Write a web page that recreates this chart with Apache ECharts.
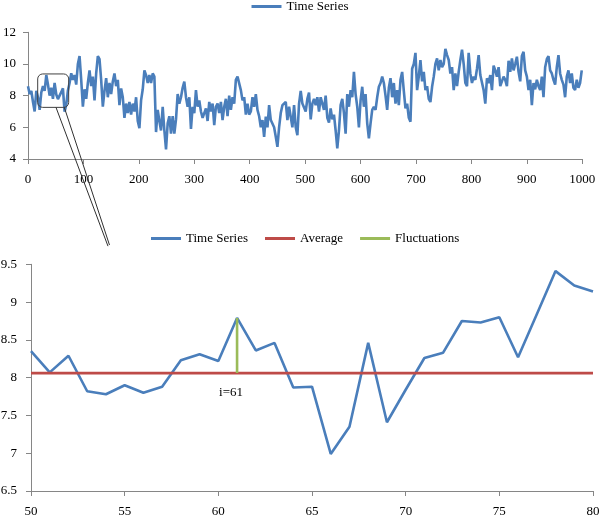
<!DOCTYPE html>
<html><head><meta charset="utf-8">
<script src="https://cdn.jsdelivr.net/npm/echarts@6/dist/echarts.min.js"></script>
<style>html,body{margin:0;padding:0;background:#fff}#c{width:600px;height:517px}</style>
</head><body><div id="c"></div>
<script>
// Overview series: one reading every 3 steps, x = index * 3
const overviewStep = 3;
const overviewValues = [
  8.6, 8.1, 8.3, 7.6, 7.0, 8.3, 7.9, 7.1, 8.2, 8.6, 8.3, 9.3, 8.7, 8.0, 8.5, 7.8, 8.8,
  8.07, 7.78, 7.88, 8.22, 8.46, 6.99, 7.41, 8.33, 8.80, 9.41,
  9.0, 9.3, 8.7, 10.0, 10.5, 9.0, 7.3, 8.4, 7.8, 8.8, 9.6, 8.6, 9.2, 7.7, 9.4, 10.5, 10.3, 9.0, 7.3, 8.3, 9.1, 7.9, 8.8, 8.1, 8.9,
  9.4, 8.6, 9.0, 7.4, 8.46, 7.9, 6.6, 7.5, 6.9, 7.6,
  6.8, 7.5, 7.0, 7.9, 6.4, 5.95, 7.7, 8.4, 9.6, 9.3,
  8.8, 9.3, 8.8, 9.4, 9.2, 5.7, 7.1, 6.4, 5.8, 7.3,
  5.8, 4.6, 6.25, 6.7, 5.6, 6.7, 5.6, 6.5, 8.1, 7.5,
  7.9, 8.5, 8.88, 7.9, 7.3, 7.9, 5.9, 7.3, 6.9, 8.35,
  7.3, 7.7, 7.0, 6.6,
  6.5, 7.2, 6.4, 7.6, 7.0, 7.5, 6.14, 7.3, 7.5, 6.9,
  7.6, 6.46, 7.3, 7.8, 6.7, 8.0, 7.1, 7.9, 7.5, 9.0,
  9.2, 9.3, 8.35, 7.7, 7.9, 6.8, 7.5, 6.8, 7.0, 7.9,
  7.3, 8.1, 7.1, 6.7, 6.0, 6.46, 5.4, 6.67, 6.0, 7.4,
  6.46, 6.46, 6.0, 5.4, 4.77, 6.0, 6.9, 7.4, 7.3, 7.6,
  6.46, 7.3, 7.3, 6.0,
  7.4, 6.0, 5.5, 7.5, 8.3, 7.5, 7.6, 7.0, 7.8, 8.2,
  6.5, 7.5, 7.8, 7.4, 7.9, 7.0, 7.9, 7.9, 7.1, 8.0,
  6.6, 6.3, 7.2, 6.5, 6.8, 5.8, 4.67, 5.8, 7.4, 7.8,
  6.9, 5.6, 8.1, 7.3, 8.35, 7.9, 9.5, 8.1, 7.3, 6.0,
  7.7, 8.56, 7.3, 8.1, 6.25, 5.3, 6.25, 7.1, 7.3, 7.1,
  7.9, 8.56, 8.8, 9.2,
  8.8, 8.0, 7.1, 8.5, 9.1, 7.9, 8.8, 7.5, 8.35, 7.4,
  9.0, 9.5, 8.3, 7.2, 7.5, 6.6, 6.35, 9.7, 10.0, 10.7,
  8.35, 9.2, 10.25, 8.9, 9.5, 8.35, 8.6, 7.8, 7.6, 8.56,
  9.2, 10.0, 10.35, 9.6, 10.25, 9.8, 10.0, 10.95, 10.56, 10.25,
  9.4, 9.8, 8.35, 9.4, 8.6,
  9.5, 10.25, 10.9, 10.0, 8.8, 8.6, 10.7, 9.4, 8.8, 9.2,
  9.0, 9.7, 10.56, 9.3, 9.4, 8.35, 7.5, 9.1, 8.8, 9.3,
  8.35, 9.9, 9.6, 9.2, 9.8, 8.6, 8.9, 9.2, 9.0, 8.6,
  10.2, 9.5, 10.35, 9.6, 10.0, 10.46, 9.5, 8.9, 10.5, 10.77,
  9.6,
  9.2, 8.35, 9.0, 7.4, 8.8, 8.4, 9.0, 8.6, 8.35, 9.2,
  7.9, 9.8, 10.3, 10.5, 9.6, 9.4, 9.0, 8.7, 9.8, 10.56,
  9.4, 9.0, 8.7, 7.9, 9.2, 9.6, 8.8, 9.4, 8.5, 8.35,
  9.0, 8.5, 8.8, 9.6
];
// Detail window
const detailX = [50,51,52,53,54,55,56,57,58,59,60,61,62,63,64,65,66,67,68,69,70,71,72,73,74,75,76,77,78,79,80];
const detailValues = [8.35,8.07,8.29,7.82,7.78,7.90,7.80,7.88,8.23,8.31,8.22,8.79,8.36,8.46,7.87,7.88,6.99,7.35,8.46,7.41,7.84,8.26,8.33,8.75,8.73,8.80,8.27,8.84,9.41,9.22,9.14];
const averageValue = 8.06;
const fluctuationIndex = 61;
const seriesNames = ['Time Series', 'Average', 'Fluctuations'];

const FONT = '"Liberation Serif", "Times New Roman", serif';
const BLUE = '#4A7EBB', RED = '#BE4B48', GREEN = '#9BBB59', AXIS = '#868686';

const overviewData = overviewValues.map((v, i) => [i * overviewStep, v]);
const detailData = detailX.map((x, i) => [x, detailValues[i]]);
const fluctValue = detailValues[detailX.indexOf(fluctuationIndex)];

function xAxisCfg(grid, min, max, interval) {
  return {
    type: 'value', gridIndex: grid, min, max, interval,
    axisLine: { show: true, onZero: false, lineStyle: { color: AXIS, width: 1 } },
    axisTick: { show: true, length: 5, lineStyle: { color: AXIS } },
    axisLabel: { margin: 14, color: '#000', fontSize: 13, fontFamily: FONT, showMinLabel: true, showMaxLabel: true,
      formatter: v => String(v) },
    splitLine: { show: false }
  };
}
function yAxisCfg(grid, min, max, interval, margin) {
  return {
    type: 'value', gridIndex: grid, min, max, interval,
    axisLine: { show: true, onZero: false, lineStyle: { color: AXIS, width: 1 } },
    axisTick: { show: true, length: 5, lineStyle: { color: AXIS } },
    axisLabel: { margin, color: '#000', fontSize: 13, fontFamily: FONT, showMinLabel: true, showMaxLabel: true,
      formatter: v => String(v) },
    splitLine: { show: false }
  };
}
const legendCommon = { padding: 0, itemWidth: 30, itemHeight: 3, itemGap: 17, icon: 'rect',
  textStyle: { fontFamily: FONT, fontSize: 13, color: '#000' } };

const chart = echarts.init(document.getElementById('c'));
chart.setOption({
  animation: false,
  textStyle: { fontFamily: FONT },
  legend: [
    Object.assign({ data: [seriesNames[0]], top: 0, left: 'center' }, legendCommon),
    Object.assign({ data: seriesNames, top: 232, left: 151 }, legendCommon)
  ],
  grid: [
    { left: 28, top: 32.3, width: 554.3, height: 126.7, outerBoundsMode: 'none', containLabel: false },
    { left: 31, top: 264.3, width: 562, height: 226.7, outerBoundsMode: 'none', containLabel: false }
  ],
  xAxis: [xAxisCfg(0, 0, 1000, 100), xAxisCfg(1, 50, 80, 5)],
  yAxis: [yAxisCfg(0, 4, 12, 2, 12), yAxisCfg(1, 6.5, 9.5, 0.5, 14)],
  series: [
    { name: seriesNames[0], type: 'line', xAxisIndex: 0, yAxisIndex: 0, data: overviewData,
      symbol: 'none', lineStyle: { color: BLUE, width: 2.6 }, itemStyle: { color: BLUE } },
    { name: seriesNames[0], type: 'line', xAxisIndex: 1, yAxisIndex: 1, data: detailData,
      symbol: 'none', lineStyle: { color: BLUE, width: 2.6 }, itemStyle: { color: BLUE } },
    { name: seriesNames[1], type: 'line', xAxisIndex: 1, yAxisIndex: 1,
      data: [[detailX[0], averageValue], [detailX[detailX.length - 1], averageValue]],
      symbol: 'none', lineStyle: { color: RED, width: 2.6 }, itemStyle: { color: RED } },
    { name: seriesNames[2], type: 'line', xAxisIndex: 1, yAxisIndex: 1,
      data: [[fluctuationIndex, averageValue], [fluctuationIndex, fluctValue]],
      symbol: 'none', lineStyle: { color: GREEN, width: 2.6 }, itemStyle: { color: GREEN } }
  ]
});

const px = (g, v) => chart.convertToPixel({ gridIndex: g }, v);
const boxA = px(0, [17.5, 9.37]);
const boxB = px(0, [73.4, 7.26]);
const s1 = px(0, [50.5, 7.26]);
const s2 = px(0, [65.5, 7.26]);
const e1 = px(1, [54.11, 9.74]);
const e2 = px(1, [54.19, 9.755]);
const lab = px(1, [fluctuationIndex, averageValue]);
chart.setOption({
  graphic: [
    { type: 'rect', z: 100, shape: { x: boxA[0], y: boxA[1], width: boxB[0] - boxA[0], height: boxB[1] - boxA[1], r: 5 },
      style: { fill: 'none', stroke: '#404040', lineWidth: 1 } },
    { type: 'line', z: 100, shape: { x1: s1[0], y1: s1[1], x2: e1[0], y2: e1[1] }, style: { stroke: '#303030', lineWidth: 1 } },
    { type: 'line', z: 100, shape: { x1: s2[0], y1: s2[1], x2: e2[0], y2: e2[1] }, style: { stroke: '#303030', lineWidth: 1 } },
    { type: 'text', z: 100, x: lab[0] - 6, y: lab[1] + 19,
      style: { text: 'i=' + fluctuationIndex, font: '13px ' + FONT, fill: '#000', align: 'center', verticalAlign: 'middle', textAlign: 'center', textVerticalAlign: 'middle' } }
  ]
});
</script></body></html>
